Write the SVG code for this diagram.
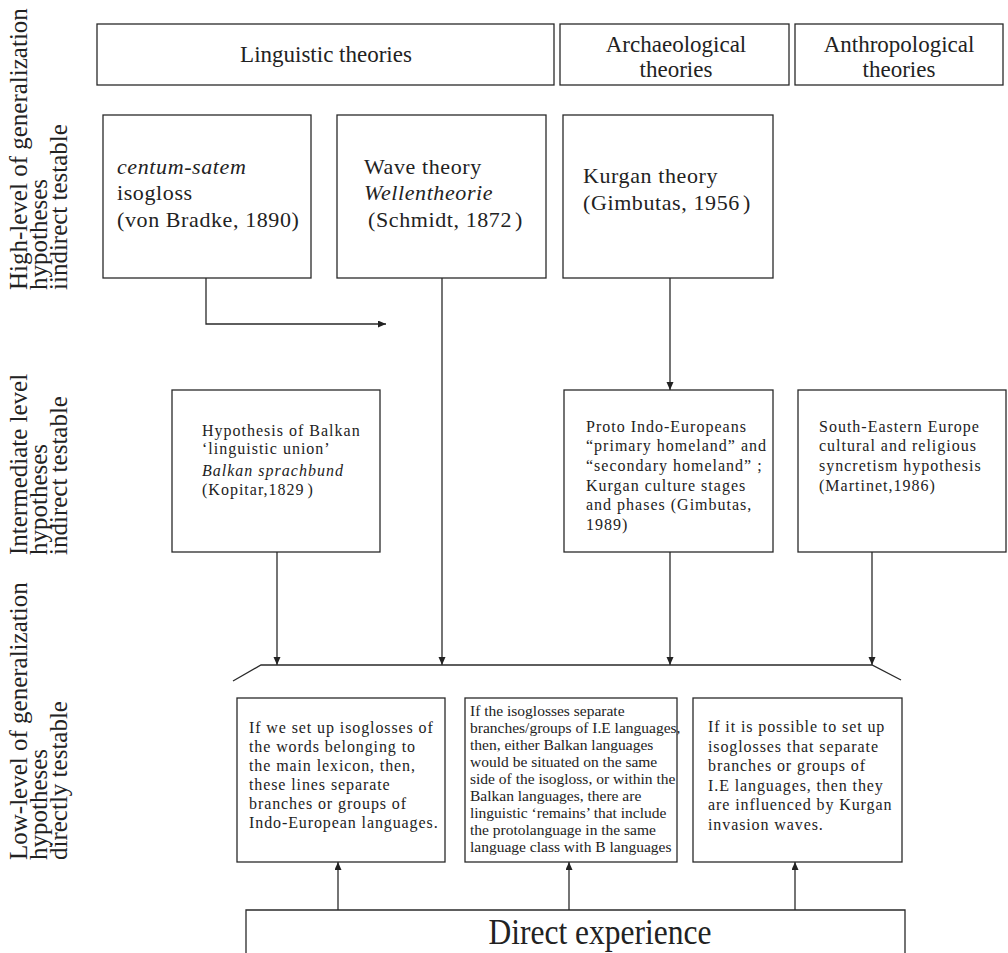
<svg xmlns="http://www.w3.org/2000/svg" width="1008" height="953" viewBox="0 0 1008 953">
<style>
.box{fill:none;stroke:#2a2a2a;stroke-width:1.3}
.ln{fill:none;stroke:#2a2a2a;stroke-width:1.3}
text{font-family:"Liberation Serif","Times New Roman",serif;fill:#222}
.hd{font-size:23px}
.lb{font-size:25px}
.hi{font-size:22px;letter-spacing:0.6px}
.mid{font-size:16px;letter-spacing:1px}
.low{font-size:16px;letter-spacing:0.9px}
.lowm{font-size:15.5px}
.it{font-style:italic}
.de{font-size:35px}
</style>
<defs>
<marker id="ah" markerUnits="userSpaceOnUse" markerWidth="10" markerHeight="8" refX="8" refY="3.5" orient="auto">
<path d="M0,0 L8,3.5 L0,7 z" fill="#222"/>
</marker>
</defs>
<rect width="1008" height="953" fill="#fff"/>

<g id="level-labels">
<g id="label-high">
<text class="lb" transform="translate(27,290) rotate(-90)">High-level of generalization</text>
<text class="lb" transform="translate(47,290) rotate(-90)">hypotheses</text>
<text class="lb" transform="translate(67,290) rotate(-90)">iindirect testable</text>
</g>
<g id="label-intermediate">
<text class="lb" transform="translate(27,555) rotate(-90)">Intermediate level</text>
<text class="lb" transform="translate(47,555) rotate(-90)">hypotheses</text>
<text class="lb" transform="translate(67,555) rotate(-90)">indirect testable</text>
</g>
<g id="label-low">
<text class="lb" transform="translate(27,860) rotate(-90)">Low-level of generalization</text>
<text class="lb" transform="translate(47,860) rotate(-90)">hypotheses</text>
<text class="lb" transform="translate(67,860) rotate(-90)">directly testable</text>
</g>
</g>

<g id="hdr-linguistic">
<rect class="box" x="97" y="24" width="457" height="61"/>
<text class="hd" x="326" y="62" text-anchor="middle">Linguistic theories</text>
</g>
<g id="hdr-archaeological">
<rect class="box" x="560" y="24" width="229" height="61"/>
<text class="hd" x="676" y="52" text-anchor="middle">Archaeological</text>
<text class="hd" x="676" y="77" text-anchor="middle">theories</text>
</g>
<g id="hdr-anthropological">
<rect class="box" x="795" y="24" width="208" height="61"/>
<text class="hd" x="899" y="52" text-anchor="middle">Anthropological</text>
<text class="hd" x="899" y="77" text-anchor="middle">theories</text>
</g>

<g id="centum-satem">
<rect class="box" x="103" y="115" width="208" height="163"/>
<text class="hi it" x="117" y="174">centum-satem</text>
<text class="hi" x="117" y="200">isogloss</text>
<text class="hi" x="117" y="226.5">(von Bradke, 1890)</text>
</g>
<g id="wave-theory">
<rect class="box" x="337" y="115" width="209" height="163"/>
<text class="hi" x="364" y="174">Wave theory</text>
<text class="hi it" x="364" y="200">Wellentheorie</text>
<text class="hi" x="368" y="226.5">(Schmidt, 1872<tspan dx="3">)</tspan></text>
</g>
<g id="kurgan-theory">
<rect class="box" x="563" y="115" width="210" height="163"/>
<text class="hi" x="583" y="183">Kurgan theory</text>
<text class="hi" x="583" y="210">(Gimbutas, 1956<tspan dx="3">)</tspan></text>
</g>

<g id="balkan-union">
<rect class="box" x="172" y="390" width="208" height="162"/>
<text class="mid" x="202" y="435.5">Hypothesis of Balkan</text>
<text class="mid" x="202" y="454">‘linguistic union’</text>
<text class="mid it" x="202" y="475.5">Balkan sprachbund</text>
<text class="mid" x="202" y="495">(Kopitar,1829<tspan dx="3">)</tspan></text>
</g>
<g id="proto-ie">
<rect class="box" x="564" y="390" width="209" height="162"/>
<text class="mid" x="586" y="431.5">Proto Indo-Europeans</text>
<text class="mid" x="586" y="451.2">“primary homeland” and</text>
<text class="mid" x="586" y="470.9">“secondary homeland” ;</text>
<text class="mid" x="586" y="490.6">Kurgan culture stages</text>
<text class="mid" x="586" y="510.3">and phases (Gimbutas,</text>
<text class="mid" x="586" y="530">1989)</text>
</g>
<g id="se-europe">
<rect class="box" x="798" y="390" width="208" height="162"/>
<text class="mid" x="819" y="431.5">South-Eastern Europe</text>
<text class="mid" x="819" y="451.2">cultural and religious</text>
<text class="mid" x="819" y="470.9">syncretism hypothesis</text>
<text class="mid" x="819" y="490.6">(Martinet,1986)</text>
</g>

<g id="low-lexicon">
<rect class="box" x="237" y="698" width="208" height="164"/>
<text class="low" x="249" y="733">If we set up isoglosses of</text>
<text class="low" x="249" y="752">the words belonging to</text>
<text class="low" x="249" y="771">the main lexicon, then,</text>
<text class="low" x="249" y="790">these lines separate</text>
<text class="low" x="249" y="809">branches or groups of</text>
<text class="low" x="249" y="828">Indo-European languages.</text>
</g>
<g id="low-balkan">
<rect class="box" x="465" y="698" width="212" height="164"/>
<text class="lowm" x="470" y="716">If the isoglosses separate</text>
<text class="lowm" x="470" y="733">branches/groups of I.E languages,</text>
<text class="lowm" x="470" y="750">then, either Balkan languages</text>
<text class="lowm" x="470" y="767">would be situated on the same</text>
<text class="lowm" x="470" y="784">side of the isogloss, or within the</text>
<text class="lowm" x="470" y="801">Balkan languages, there are</text>
<text class="lowm" x="470" y="818">linguistic ‘remains’ that include</text>
<text class="lowm" x="470" y="835">the protolanguage in the same</text>
<text class="lowm" x="470" y="852">language class with B languages</text>
</g>
<g id="low-kurgan">
<rect class="box" x="693" y="698" width="209" height="164"/>
<text class="low" x="708" y="732">If it is possible to set up</text>
<text class="low" x="708" y="751.5">isoglosses that separate</text>
<text class="low" x="708" y="771">branches or groups of</text>
<text class="low" x="708" y="790.5">I.E languages, then they</text>
<text class="low" x="708" y="810">are influenced by Kurgan</text>
<text class="low" x="708" y="829.5">invasion waves.</text>
</g>

<g id="direct-experience">
<path class="box" d="M246,953 V910 H905 V953"/>
<text class="de" transform="translate(600,944) scale(0.9,1)" text-anchor="middle">Direct experience</text>
</g>

<g id="connectors">
<polyline class="ln" points="206,278 206,324 386,324" marker-end="url(#ah)"/>
<line class="ln" x1="670" y1="278" x2="670" y2="390" marker-end="url(#ah)"/>
<line class="ln" x1="442" y1="278" x2="442" y2="665" marker-end="url(#ah)"/>
<line class="ln" x1="277" y1="552" x2="277" y2="665" marker-end="url(#ah)"/>
<line class="ln" x1="670" y1="552" x2="670" y2="665" marker-end="url(#ah)"/>
<line class="ln" x1="872" y1="552" x2="872" y2="665" marker-end="url(#ah)"/>
<polyline class="ln" points="233,681 261,665 872,665 901,680"/>
<line class="ln" x1="338" y1="910" x2="338" y2="862" marker-end="url(#ah)"/>
<line class="ln" x1="569" y1="910" x2="569" y2="862" marker-end="url(#ah)"/>
<line class="ln" x1="795" y1="910" x2="795" y2="862" marker-end="url(#ah)"/>
</g>
</svg>
